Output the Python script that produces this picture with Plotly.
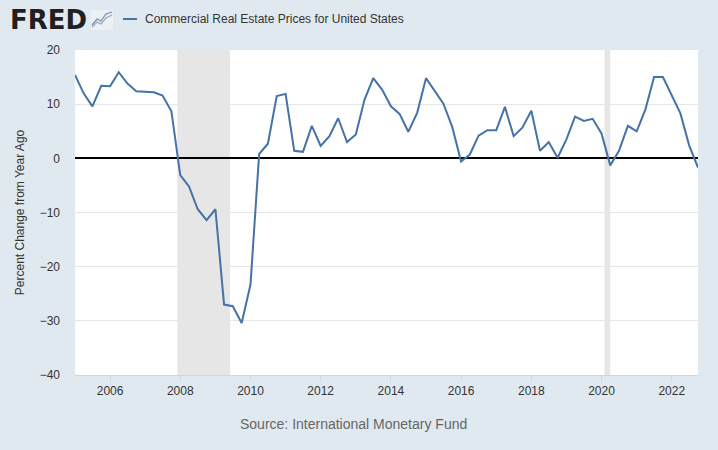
import pandas as pd
import plotly.graph_objects as go

# quarterly, percent change from year ago
quarters = pd.date_range("2005-01-01", "2022-10-01", freq="QS")
pct_change = [
    15.4, 12.0, 9.6, 13.4,
    13.3, 15.9, 13.8, 12.4,
    12.3, 12.2, 11.6, 8.7,
    -3.1, -5.2, -9.4, -11.4,
    -9.4, -27.0, -27.3, -30.4,
    -23.3, 0.8, 2.7, 11.5,
    11.9, 1.4, 1.2, 6.0,
    2.3, 4.1, 7.4, 3.0,
    4.4, 10.8, 14.8, 12.7,
    9.6, 8.2, 4.9, 8.4,
    14.8, 12.5, 10.1, 5.8,
    -0.6, 0.7, 4.2, 5.2,
    5.2, 9.5, 4.1, 5.7,
    8.8, 1.4, 3.0, 0.1,
    3.5, 7.7, 6.9, 7.3,
    4.6, -1.3, 1.4, 6.0,
    5.0, 9.0, 15.0, 15.0,
    11.7, 8.3, 2.4, -1.7,
]
recession_start = ["2007-12-01", "2020-02-01"]
recession_end = ["2009-06-01", "2020-04-01"]

series_name = "Commercial Real Estate Prices for United States"
y_title = "Percent Change from Year Ago"
source_text = "Source: International Monetary Fund"

W, H = 718, 450
L, R, T, B = 75, 20, 50, 75
PW, PH = W - L - R, H - T - B


def px_x(p):
    return (p - L) / PW


def px_y(p):
    return (H - B - p) / PH


fig = go.Figure()
fig.add_trace(go.Scatter(
    x=quarters, y=pct_change, mode="lines",
    line=dict(color="#4572a7", width=2),
    name=series_name, showlegend=False,
))

for s, e in zip(recession_start, recession_end):
    fig.add_vrect(x0=s, x1=e, fillcolor="#e6e6e6", opacity=1,
                  line_width=0, layer="below")

# legend sample line + text
fig.add_shape(type="line", xref="paper", yref="paper",
              x0=px_x(123), x1=px_x(137), y0=px_y(19), y1=px_y(19),
              line=dict(color="#4572a7", width=2))
fig.add_annotation(text=series_name, xref="paper", yref="paper",
                   x=px_x(143), y=px_y(19), xanchor="left", yanchor="middle",
                   showarrow=False,
                   font=dict(family="Liberation Sans", size=12, color="#333333"))

# FRED logo
fig.add_annotation(text="<b>FRED</b>", xref="paper", yref="paper",
                   x=px_x(8), y=px_y(20), xanchor="left", yanchor="middle",
                   showarrow=False,
                   font=dict(family="DejaVu Sans", size=26, color="#231f20"))
fig.add_shape(type="rect", xref="paper", yref="paper",
              x0=px_x(91), x1=px_x(113), y0=px_y(30), y1=px_y(10),
              fillcolor="#eceff3", line_width=0)


def icon_path(pts):
    return "M " + " L ".join(f"{px_x(a)},{px_y(b)}" for a, b in pts)


fig.add_shape(type="path", xref="paper", yref="paper",
              path=icon_path([(92, 27), (97, 22), (101, 24), (106, 18), (112, 15)]),
              line=dict(color="#9aa8b8", width=1.2))
fig.add_shape(type="path", xref="paper", yref="paper",
              path=icon_path([(92, 25), (97, 19), (101, 21), (106, 14), (112, 12)]),
              line=dict(color="#6d8fbf", width=1.2))

fig.add_annotation(text=source_text, xref="paper", yref="paper",
                   x=px_x(353), y=px_y(424), xanchor="center", yanchor="middle",
                   showarrow=False,
                   font=dict(family="Liberation Sans", size=14, color="#666666"))

fig.update_layout(
    width=W, height=H,
    margin=dict(l=L, r=R, t=T, b=B),
    paper_bgcolor="#e1e9f0",
    plot_bgcolor="#ffffff",
    font=dict(family="Liberation Sans", size=12, color="#333333"),
    xaxis=dict(
        range=["2005-01-01", "2022-10-01"],
        tick0="2006-01-01", dtick="M24", tickformat="%Y",
        showgrid=False, ticks="outside", ticklen=5, tickcolor="#ccd6eb",
        showline=True, linecolor="#ccd6eb", linewidth=1,
        zeroline=False, fixedrange=True,
    ),
    yaxis=dict(
        range=[-40, 20], dtick=10,
        gridcolor="#e6e6e6", gridwidth=1,
        zeroline=True, zerolinecolor="#000000", zerolinewidth=2,
        showline=False, ticks="", ticklabelstandoff=14,
        title=dict(text=y_title, standoff=12,
                   font=dict(size=12, color="#333333")),
        automargin=False,
    ),
)

fig.write_html("out.html",
               config={"displayModeBar": False},
               post_script="document.body.style.margin='0px';")
